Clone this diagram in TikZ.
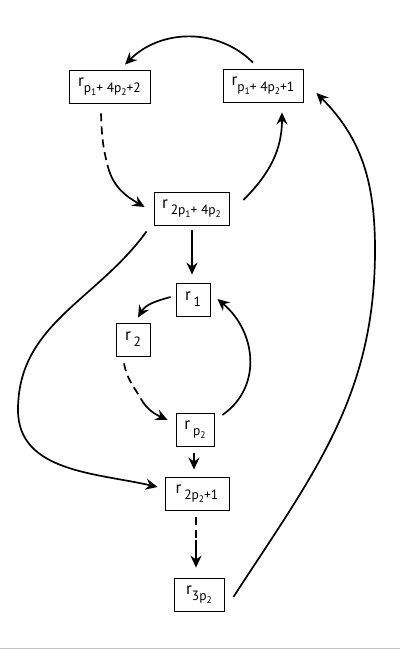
\documentclass[tikz,border=0pt]{standalone}
\usepackage{fontspec}
\setmainfont{PT Sans}
\usetikzlibrary{arrows.meta,calc}
\newcommand\lowa[1]{\raisebox{-6pt}{\fontsize{13.5}{13.5}\selectfont #1}}
\newcommand\lowb[1]{\raisebox{-3.5pt}{\fontsize{9.5}{9.5}\selectfont #1}}
\begin{document}
\begin{tikzpicture}[x=1pt,y=1pt,
  box/.style={draw, line width=0.8pt, minimum height=33pt, inner sep=1pt, font=\fontsize{17}{17}\selectfont},
  conn/.style={line width=1.7pt, -{Stealth[length=12pt,width=11pt,inset=4pt]}},
  dsh/.style={line width=1.7pt, dash pattern=on 8pt off 5pt}]
\useasboundingbox (0,0) rectangle (400,650);
\draw[gray!45, line width=1pt] (0,1) -- (400,1);
\node[box, minimum width=81pt] (A) at (109.5,563.5) {r\lowa{p\lowb{1}+ 4p\lowb{2}+2}};
\node[box, minimum width=80pt] (B) at (263,564.5) {r\lowa{p\lowb{1}+ 4p\lowb{2}+1}};
\node[box, minimum width=75pt] (C) at (191.5,441.5) {r\,\lowa{2p\lowb{1}+ 4p\lowb{2}}};
\node[box, minimum width=34pt] (R1) at (193,350.5) {r\,\lowa{1}};
\node[box, minimum width=34pt] (R2) at (133,310.5) {r\,\lowa{2}};
\node[box, minimum width=38pt] (RP) at (195,220.5) {r\,\lowa{p\lowb{2}}};
\node[box, minimum width=64pt] (RQ) at (197,156.5) {r\,\lowa{2p\lowb{2}+1}};
\node[box, minimum width=50pt] (RT) at (199,55.5) {r\lowa{3p\lowb{2}}};
\coordinate (m1) at (108,483);
\coordinate (m2) at (141,251);
\coordinate (m3) at (196,110);
\coordinate (L) at (18,240);
\coordinate (R) at (375,400);
% top arc B -> A
\draw[conn] ($(B.north)+(-10,6)$) to[out=135,in=45] ($(A.north)+(15.5,5)$);
% A -> C dashed
\draw[dsh] ($(A.south)+(-8.5,-10)$) to[out=-88,in=105] (m1);
\draw[conn] (m1) to[out=-75,in=150] ($(C.west)+(-9,1.5)$);
% C -> B
\draw[conn] ($(C.east)+(14,8.5)$) to[out=45,in=-90] ($(B.south)+(19,-10)$);
% C -> R1
\draw[conn] ($(C.south)+(0.5,-5)$) -- ($(R1.north)+(-1,8)$);
% R1 -> R2
\draw[conn] ($(R1.west)+(-5,2.5)$) to[out=195,in=60] ($(R2.north)+(5,5)$);
% R2 -> RP dashed
\draw[dsh] ($(R2.south)+(-9,-7)$) to[out=-80,in=120] (m2);
\draw[conn] (m2) to[out=-60,in=155] ($(RP.west)+(-8,9.5)$);
% RP -> R1
\draw[conn] ($(RP.east)+(8,14.5)$) to[out=35,in=-40,looseness=1.1] ($(R1.east)+(7,0.5)$);
% RP -> RQ
\draw[conn] ($(RP.south)+(-1,-7)$) -- ($(RQ.north)+(-3,7)$);
% C -> RQ long left
\draw[conn] ($(C.south west)+(-7,-6)$) to[out=234,in=90] (L) to[out=-90,in=167] ($(RQ.west)+(-7,6.5)$);
% RQ -> RT dashed
\draw[dsh] ($(RQ.south)+(-1,-7)$) -- (m3);
\draw[conn] (m3) -- ($(RT.north)+(-3,10)$);
% RT -> B long right
\draw[conn] ($(RT.east)+(9,-2.5)$) to[out=57,in=-90] (R) to[out=90,in=-45] ($(B.east)+(13,-7.5)$);
\end{tikzpicture}
\end{document}
